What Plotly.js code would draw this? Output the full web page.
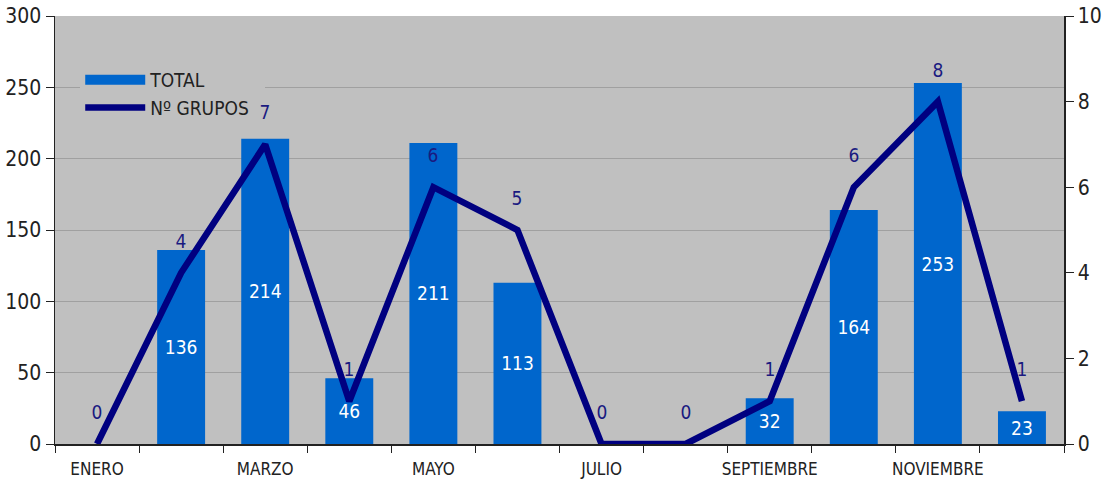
<!DOCTYPE html>
<html>
<head>
<meta charset="utf-8">
<script src="https://cdn.plot.ly/plotly-3.0.1.min.js"></script>
<style>
html,body{margin:0;padding:0;background:#fff;}
#chart{width:1110px;height:484px;}
#chart text{font-stretch:condensed !important;}
</style>
</head>
<body>
<div id="chart"></div>
<script>
const months = ["ENERO","FEBRERO","MARZO","ABRIL","MAYO","JUNIO","JULIO","AGOSTO","SEPTIEMBRE","OCTUBRE","NOVIEMBRE","DICIEMBRE"];
const tickLabels = ["ENERO","","MARZO","","MAYO","","JULIO","","SEPTIEMBRE","","NOVIEMBRE",""];
const total = [0,136,214,46,211,113,0,0,32,164,253,23];
const grupos = [0,4,7,1,6,5,0,0,1,6,8,1];

const FONT = "'Liberation Sans Narrow','DejaVu Sans',sans-serif";

const bars = {
  type: "bar", name: "TOTAL", x: months, y: total,
  marker: {color: "#0066CC"}, showlegend: false,
  text: total.map(v => v > 0 ? String(v) : ""),
  textposition: "inside", insidetextanchor: "middle",
  textfont: {color: "#ffffff", size: 19, family: FONT},
  hoverinfo: "x+y"
};
// legend swatch for the bars (wide rectangle, as in the reference legend)
const barKey = {
  type: "scatter", mode: "lines", name: "TOTAL", x: [null], y: [null],
  line: {color: "#0066CC", width: 14}, hoverinfo: "skip"
};
const line = {
  type: "scatter", mode: "lines", name: "Nº GRUPOS", x: months, y: grupos,
  yaxis: "y2", line: {color: "#000080", width: 6.5}
};

const annotations = months.map((m, i) => ({
  x: m, y: grupos[i], xref: "x", yref: "y2", text: String(grupos[i]),
  showarrow: false, yshift: 32, font: {color: "#1a1a80", size: 19, family: FONT}
}));

const layout = {
  width: 1110, height: 484,
  margin: {l: 55, r: 46, t: 16, b: 40},
  paper_bgcolor: "#ffffff", plot_bgcolor: "#C0C0C0",
  font: {family: FONT, color: "#222222"},
  bargap: 0.43,
  showlegend: true,
  legend: {x: 0.025, y: 0.895, xanchor: "left", yanchor: "top", bgcolor: "#C0C0C0",
           font: {size: 19, family: FONT, color: "#222"}, itemwidth: 60, tracegroupgap: 0},
  xaxis: {type: "category", tickmode: "array", tickvals: months, ticktext: tickLabels,
          tickson: "boundaries", ticks: "outside", ticklen: 7, tickcolor: "#222", tickangle: 0,
          ticklabelstandoff: 9,
          showline: true, linecolor: "#222", linewidth: 1.5,
          tickfont: {size: 17, family: FONT, color: "#222"}, showgrid: false},
  yaxis: {range: [0, 300], dtick: 50, ticks: "outside", ticklen: 8, tickcolor: "#222",
          showline: true, linecolor: "#222", linewidth: 1.5, gridcolor: "#A0A0A0", gridwidth: 1,
          zeroline: false, tickfont: {size: 21, family: FONT, color: "#222"}},
  yaxis2: {range: [0, 10], dtick: 2, overlaying: "y", side: "right", ticks: "outside", ticklen: 8,
           tickcolor: "#222", showline: true, linecolor: "#222", linewidth: 1.5, showgrid: false,
           zeroline: false, tickfont: {size: 21, family: FONT, color: "#222"}},
  annotations: annotations
};

Plotly.newPlot("chart", [bars, barKey, line], layout, {displayModeBar: false, staticPlot: true});
</script>
</body>
</html>
